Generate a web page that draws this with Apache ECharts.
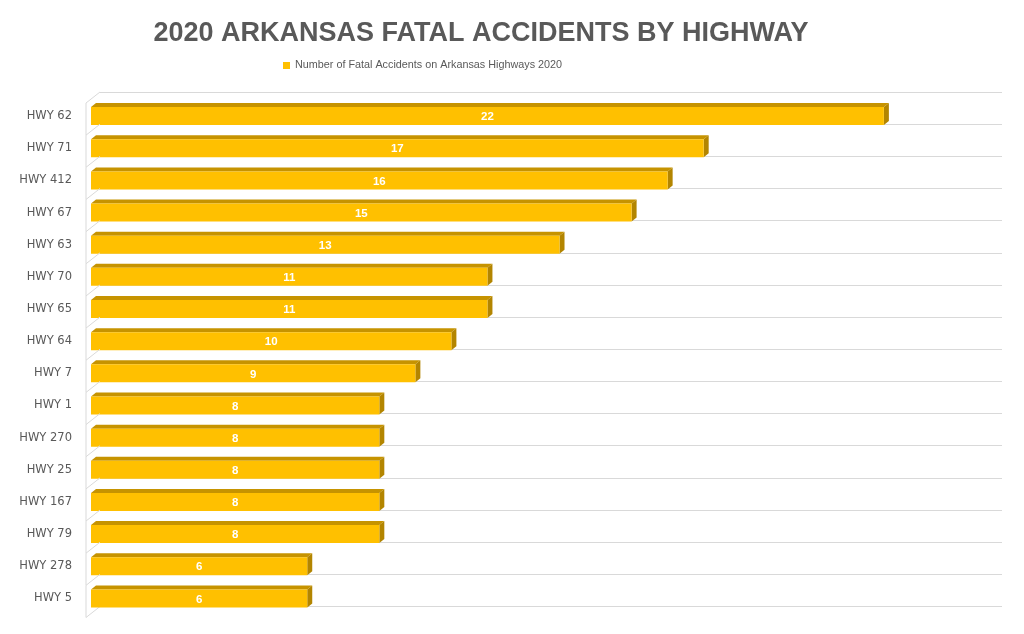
<!DOCTYPE html>
<html>
<head>
<meta charset="utf-8">
<script src="https://cdn.jsdelivr.net/npm/echarts@6/dist/echarts.min.js"></script>
<style>
  html, body { margin: 0; padding: 0; background: #fff; }
  #main { width: 1024px; height: 634px; }
</style>
</head>
<body>
<div id="main"></div>
<script>
// highways, top to bottom
var highways = ['HWY 62', 'HWY 71', 'HWY 412', 'HWY 67', 'HWY 63', 'HWY 70', 'HWY 65', 'HWY 64',
  'HWY 7', 'HWY 1', 'HWY 270', 'HWY 25', 'HWY 167', 'HWY 79', 'HWY 278', 'HWY 5'];
var accidents = [22, 17, 16, 15, 13, 11, 11, 10, 9, 8, 8, 8, 8, 8, 6, 6];
var seriesName = 'Number of Fatal Accidents on Arkansas Highways 2020';

var chart = echarts.init(document.getElementById('main'));

// 3d look: front face + top face + right face
var DX = 5, DY = 4, HALF = 9;

function renderBar(params, api) {
  var idx = api.value(0);
  var val = api.value(1);
  var start = api.coord([0, idx]);
  var end = api.coord([val, idx]);
  var band = api.size([0, 1])[1];
  var x0 = start[0], x1 = end[0], yc = end[1];
  var top = yc - band / 2, bottom = yc + band / 2;
  var children = [];
  // left side wall pieces
  children.push({
    type: 'line', silent: true,
    shape: { x1: x0 - 5, y1: top + 3, x2: x0 - 5, y2: bottom + 3 },
    style: { stroke: '#D9D9D9', lineWidth: 1 }
  });
  children.push({
    type: 'line', silent: true,
    shape: { x1: x0 - 5, y1: top + 3, x2: x0 + 9, y2: top - 8 },
    style: { stroke: '#D9D9D9', lineWidth: 1 }
  });
  if (params.dataIndex === accidents.length - 1) {
    children.push({
      type: 'line', silent: true,
      shape: { x1: x0 - 5, y1: bottom + 3, x2: x0 + 9, y2: bottom - 8 },
      style: { stroke: '#D9D9D9', lineWidth: 1 }
    });
  }
  children.push({
    type: 'polygon',
    shape: { points: [[x0, yc - HALF], [x0 + DX, yc - HALF - DY], [x1 + DX, yc - HALF - DY], [x1, yc - HALF]] },
    style: { fill: '#C69300' }
  });
  children.push({
    type: 'polygon',
    shape: { points: [[x1, yc - HALF], [x1 + DX, yc - HALF - DY], [x1 + DX, yc + HALF - DY], [x1, yc + HALF]] },
    style: { fill: '#B38500' }
  });
  children.push({
    type: 'rect',
    shape: { x: x0, y: yc - HALF, width: x1 - x0, height: HALF * 2 },
    style: { fill: '#FFC000' }
  });
  children.push({
    type: 'text',
    style: {
      text: String(val), x: (x0 + x1) / 2, y: yc + 1,
      align: 'center', verticalAlign: 'middle',
      fill: '#fff', font: 'bold 11.5px "Liberation Sans", Arial, sans-serif'
    }
  });
  return { type: 'group', children: children };
}

var option = {
  animation: false,
  title: {
    text: '2020 ARKANSAS FATAL ACCIDENTS BY HIGHWAY',
    left: 476, top: 15, textAlign: 'center',
    textStyle: { fontFamily: 'Liberation Sans', fontWeight: 'bold', fontSize: 27, color: '#595959' }
  },
  legend: {
    data: [{ name: seriesName, icon: 'rect' }],
    left: 278, top: 55,
    itemWidth: 7, itemHeight: 7, itemGap: 4,
    textStyle: { fontFamily: 'Liberation Sans', fontSize: 10.8, color: '#595959' }
  },
  grid: [
    { left: 91, right: 32, top: 100, bottom: 19.5 },
    { left: 100, right: 22, top: 92, bottom: 27.5 }
  ],
  xAxis: [
    { type: 'value', gridIndex: 0, min: 0, max: 25, show: false },
    { type: 'value', gridIndex: 1, min: 0, max: 25, show: false }
  ],
  yAxis: [
    {
      type: 'category', gridIndex: 0, data: highways, inverse: true,
      axisLine: { show: false }, axisTick: { show: false },
      axisLabel: { margin: 19, color: '#595959', fontSize: 11.5, fontFamily: 'DejaVu Sans' }
    },
    {
      type: 'category', gridIndex: 1, data: highways, inverse: true,
      axisLine: { show: false }, axisTick: { show: false }, axisLabel: { show: false },
      splitLine: { show: true, lineStyle: { color: '#D9D9D9', width: 1 } }
    }
  ],
  series: [{
    name: seriesName,
    type: 'custom',
    xAxisIndex: 0, yAxisIndex: 0,
    itemStyle: { color: '#FFC000' },
    encode: { x: 1, y: 0 },
    renderItem: renderBar,
    data: accidents.map(function (v, i) { return [i, v]; })
  }]
};

chart.setOption(option);
</script>
</body>
</html>
